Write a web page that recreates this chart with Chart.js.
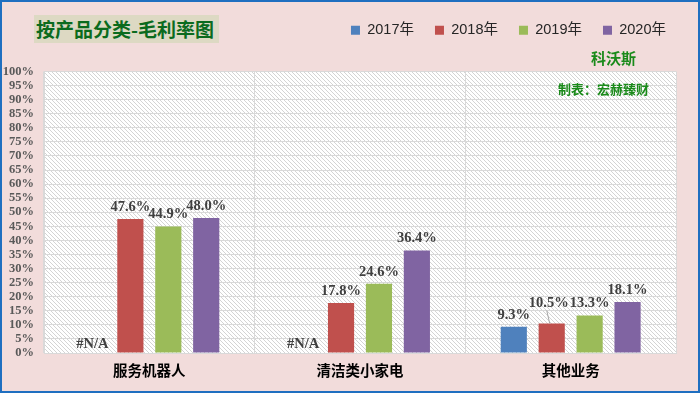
<!DOCTYPE html>
<html>
<head>
<meta charset="utf-8">
<script src="https://cdn.jsdelivr.net/npm/chart.js@4"></script>
<style>
  html, body { margin:0; padding:0; background:#F2DCDB; }
  #wrap { position:relative; width:700px; height:393px; box-sizing:border-box; border:2px solid #1F6FC0; background:#F2DCDB; overflow:hidden; }
  #chart { position:absolute; left:0; top:0; }
  .ttl { position:absolute; left:32px; top:13px; width:183px; height:28px; background:#DDD9C3;
         font:bold 19px "Noto Sans CJK SC", serif; color:#0B6B1E; line-height:28px; padding-left:2px; white-space:nowrap; }
  .mark { position:absolute; font-family:"Noto Sans CJK SC", sans-serif; font-weight:bold; color:#1A8A1A; white-space:nowrap; }
</style>
</head>
<body>
<div id="wrap">
  <canvas id="chart" width="696" height="389"></canvas>
  <div class="ttl">按产品分类-毛利率图</div>
  <div class="mark" style="left:589px;top:45px;font-size:15px;">科沃斯</div>
  <div class="mark" style="left:556px;top:77px;font-size:13px;">制表：宏赫臻财</div>
</div>
<script>
/* 按产品分类 毛利率 — values in % */
const categories = ['服务机器人', '清洁类小家电', '其他业务'];
const years = ['2017年', '2018年', '2019年', '2020年'];
const colors = ['#4F81BD', '#C0504D', '#9BBB59', '#8064A2'];
const v2017 = [null, null, 9.3];
const v2018 = [47.6, 17.8, 10.5];
const v2019 = [44.9, 24.6, 13.3];
const v2020 = [48.0, 36.4, 18.1];
const yTicks = [0, 5, 10, 15, 20, 25, 30, 35, 40, 45, 50, 55, 60, 65, 70, 75, 80, 85, 90, 95, 100];

const series = [v2017, v2018, v2019, v2020];
const serif = '"Liberation Serif", "Times New Roman", serif';

// diagonal hatch for the plot area
function hatch(){
  const c = document.createElement('canvas'); c.width = 4; c.height = 4;
  const g = c.getContext('2d');
  g.fillStyle = '#FFFFFF'; g.fillRect(0,0,4,4);
  g.fillStyle = '#D4D4D4';
  for(let i=0;i<4;i++) g.fillRect(i,i,1,1);
  return g.createPattern(c, 'repeat');
}

const plotBg = {
  id:'plotBg',
  beforeInit(chart){
    const lg = chart.legend;
    const fit = lg.fit;
    lg.fit = function(){ fit.call(this); this.height += 24; };
  },
  beforeDraw(chart){
    const {ctx, chartArea:a} = chart;
    ctx.save();
    ctx.fillStyle = hatch();
    ctx.fillRect(a.left, a.top, a.right-a.left, a.bottom-a.top);
    ctx.restore();
    chart.legend.right = chart.width - 11;
  }
};

const barLabels = {
  id:'barLabels',
  afterDatasetsDraw(chart){
    const ctx = chart.ctx;
    const base = chart.scales.y.getPixelForValue(0);
    ctx.save();
    ctx.font = 'bold 14.5px ' + serif;
    ctx.fillStyle = '#404040';
    ctx.textAlign = 'center';
    ctx.textBaseline = 'middle';
    chart.data.datasets.forEach((ds, di) => {
      chart.getDatasetMeta(di).data.forEach((bar, i) => {
        const v = ds.data[i];
        if(v == null){ ctx.fillText('#N/A', bar.x, base - 9); return; }
        let x = bar.x, y = bar.y - 12;
        if(di === 1 && i === 2){ // leader line label
          x = bar.x - 3; y = bar.y - 20;
          ctx.save(); ctx.strokeStyle = '#A6A6A6'; ctx.lineWidth = 1;
          ctx.beginPath(); ctx.moveTo(x - 2, y + 7); ctx.lineTo(x + 1, bar.y); ctx.stroke(); ctx.restore();
        }
        ctx.fillText(v.toFixed(1) + '%', x, y);
      });
    });
    ctx.restore();
  }
};

new Chart(document.getElementById('chart'), {
  type:'bar',
  data:{
    labels: categories,
    datasets: years.map((y, i) => ({
      label: y, data: series[i], backgroundColor: colors[i], borderWidth: 0,
      categoryPercentage: 0.72, barPercentage: 0.69
    }))
  },
  options:{
    responsive:false, animation:false,
    layout:{ padding:{ left:0, right:22, top:0, bottom:0 } },
    plugins:{
      legend:{
        position:'top', align:'end',
        labels:{ boxWidth:9, boxHeight:9, padding:21, color:'#262626',
                 font:{ size:14.5, family:'"Liberation Sans", Arial, "Noto Sans CJK SC", sans-serif' } }
      },
      tooltip:{ enabled:false }
    },
    scales:{
      x:{
        grid:{ color:'#D9D9D9', drawTicks:false, offset:true },
        border:{ color:'#D9D9D9' },
        ticks:{ color:'#000000', padding:9, font:{ size:14.5, weight:'bold', family:'"Noto Sans CJK SC", sans-serif' } },
        afterFit(s){ s.height = 38; }
      },
      y:{
        min:0, max:100,
        afterBuildTicks(s){ s.ticks = yTicks.map(v => ({value:v})); },
        grid:{ color:'#D9D9D9', drawTicks:false },
        border:{ color:'#D9D9D9' },
        ticks:{ color:'#595959', padding:10, autoSkip:false, callback: v => v + '%',
                font:{ size:12.5, weight:'bold', family: serif } },
        afterFit(s){ s.width = 42; }
      }
    }
  },
  plugins:[plotBg, barLabels]
});
</script>
</body>
</html>
